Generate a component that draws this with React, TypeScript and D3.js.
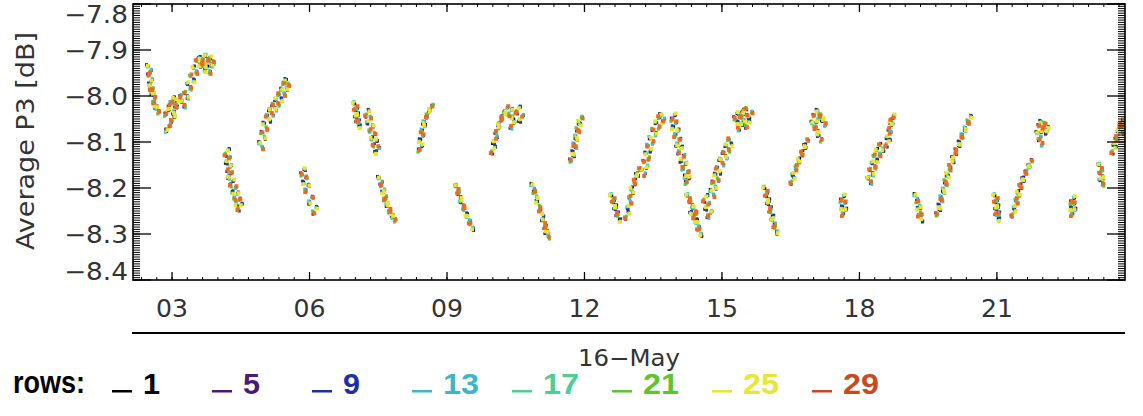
import React from "react";
import * as d3 from "d3";

const W = 1143;
const H = 416;

// ---- axis data ----
const yDomain = [-7.8, -8.4];
const xDomain = [2.148, 23.795]; // day of May
const yMajorTicks = [-7.8, -7.9, -8.0, -8.1, -8.2, -8.3, -8.4];
const yTickLabels = ["−7.8", "−7.9", "−8.0", "−8.1", "−8.2", "−8.3", "−8.4"];
const xMajorTicks = [3, 6, 9, 12, 15, 18, 21];
const xTickLabels = ["03", "06", "09", "12", "15", "18", "21"];
const dateLabel = "16−May";
const yTitle = "Average P3 [dB]";

// ---- legend / series ----
const rows = [1, 5, 9, 13, 17, 21, 25, 29];
const rowColors = ["#000000", "#5a1f80", "#2233b0", "#40bcd0", "#4fd4a0", "#5ec832", "#ece42a", "#ee6a1c"];
const legendColors = ["#000000", "#4c1a72", "#1f2fa6", "#3cb6c8", "#4ccf94", "#5cc62e", "#e8e634", "#c84a22"];
// spread of each row around the cluster track
const rowDayOffsets = [-0.055, 0.045, -0.03, 0.05, -0.045, 0.02, -0.015, 0.03];
const rowDbOffsets = [0.008, -0.007, 0.005, -0.009, 0.003, -0.004, 0.006, -0.002];

// ---- measurement clusters: [day of May, average P3 dB] ----
const clusters: [number, number][][] = [
  [[2.50,-7.94],[2.52,-7.96],[2.54,-7.98],[2.56,-7.99],[2.59,-8.00],[2.63,-8.02],[2.67,-8.03]],
  [[2.89,-8.035],[2.96,-8.02],[3.00,-8.01],[3.07,-8.03],[3.11,-8.015],[3.15,-8.005],[3.02,-8.05],[2.91,-8.07]],
  [[3.24,-8.017],[3.31,-7.998],[3.37,-7.978],[3.44,-7.961],[3.50,-7.943],[3.57,-7.928],[3.63,-7.922],[3.70,-7.926],[3.76,-7.917],[3.83,-7.928],[3.87,-7.922],[3.68,-7.939],[3.79,-7.943]],
  [[4.20,-8.122],[4.22,-8.139],[4.25,-8.157],[4.27,-8.172],[4.31,-8.189],[4.36,-8.204],[4.40,-8.217],[4.44,-8.230],[4.48,-8.241]],
  [[4.94,-8.107],[4.99,-8.085],[5.03,-8.065],[5.10,-8.048],[5.16,-8.035],[5.23,-8.024],[5.29,-8.013],[5.36,-8.002],[5.42,-7.991],[5.47,-7.978],[5.51,-7.970]],
  [[5.86,-8.165],[5.90,-8.183],[5.95,-8.200],[6.03,-8.226],[6.12,-8.248]],
  [[7.00,-8.020],[7.02,-8.035],[7.04,-8.050],[7.06,-8.061]],
  [[7.26,-8.037],[7.30,-8.052],[7.35,-8.070],[7.39,-8.087],[7.43,-8.102],[7.48,-8.117]],
  [[7.54,-8.183],[7.59,-8.200],[7.63,-8.215],[7.67,-8.230],[7.72,-8.243],[7.78,-8.257],[7.83,-8.265]],
  [[8.42,-8.113],[8.44,-8.091],[8.48,-8.070],[8.52,-8.052],[8.59,-8.037],[8.65,-8.026]],
  [[9.22,-8.200],[9.27,-8.217],[9.33,-8.235],[9.40,-8.252],[9.46,-8.267],[9.53,-8.283]],
  [[10.01,-8.117],[10.05,-8.096],[10.10,-8.074],[10.16,-8.057],[10.23,-8.041],[10.29,-8.030],[10.38,-8.035],[10.47,-8.041],[10.55,-8.030],[10.62,-8.048],[10.43,-8.063]],
  [[10.88,-8.198],[10.93,-8.215],[10.99,-8.235],[11.06,-8.254],[11.12,-8.274],[11.17,-8.291],[11.19,-8.302]],
  [[11.73,-8.135],[11.78,-8.117],[11.80,-8.100],[11.84,-8.083],[11.87,-8.067],[11.91,-8.052]],
  [[12.61,-8.220],[12.65,-8.235],[12.69,-8.250],[12.74,-8.265]],
  [[12.93,-8.259],[12.98,-8.237],[13.02,-8.215],[13.06,-8.196],[13.13,-8.178],[13.17,-8.165]],
  [[13.28,-8.165],[13.33,-8.148],[13.37,-8.130],[13.41,-8.113],[13.46,-8.096],[13.52,-8.078],[13.59,-8.063],[13.66,-8.052],[13.70,-8.046]],
  [[13.94,-8.046],[13.96,-8.063],[14.01,-8.080],[14.05,-8.100],[14.09,-8.117],[14.14,-8.135],[14.18,-8.152],[14.23,-8.170],[14.25,-8.183]],
  [[14.27,-8.220],[14.33,-8.235],[14.40,-8.248],[14.42,-8.265],[14.46,-8.280],[14.51,-8.296],[14.35,-8.259]],
  [[14.64,-8.222],[14.68,-8.239],[14.73,-8.257]],
  [[14.79,-8.211],[14.83,-8.193],[14.88,-8.176],[14.92,-8.161],[14.99,-8.143],[15.06,-8.128],[15.12,-8.113],[15.18,-8.100]],
  [[15.31,-8.043],[15.38,-8.052],[15.44,-8.037],[15.51,-8.048],[15.56,-8.061],[15.62,-8.041],[15.40,-8.067],[15.49,-8.033]],
  [[15.95,-8.204],[15.99,-8.222],[16.03,-8.239],[16.08,-8.257],[16.12,-8.274],[16.17,-8.291]],
  [[16.54,-8.183],[16.58,-8.165],[16.65,-8.148],[16.71,-8.133],[16.78,-8.117],[16.84,-8.102]],
  [[17.00,-8.063],[17.04,-8.048],[17.11,-8.037],[17.17,-8.046],[17.22,-8.057],[17.06,-8.074],[17.13,-8.091]],
  [[17.63,-8.222],[17.65,-8.237],[17.67,-8.252]],
  [[18.22,-8.183],[18.26,-8.165],[18.31,-8.150],[18.35,-8.135],[18.41,-8.122],[18.48,-8.111]],
  [[18.62,-8.102],[18.64,-8.085],[18.68,-8.067],[18.71,-8.052],[18.72,-8.048]],
  [[19.24,-8.220],[19.29,-8.235],[19.31,-8.250],[19.33,-8.265]],
  [[19.72,-8.252],[19.77,-8.233],[19.81,-8.215],[19.86,-8.198],[19.90,-8.180],[19.94,-8.165],[20.01,-8.148],[20.07,-8.130],[20.14,-8.113],[20.21,-8.096],[20.27,-8.080],[20.34,-8.065],[20.40,-8.050]],
  [[20.97,-8.220],[20.99,-8.235],[21.01,-8.250],[21.01,-8.263]],
  [[21.36,-8.254],[21.41,-8.237],[21.45,-8.220],[21.49,-8.204],[21.54,-8.189],[21.60,-8.174],[21.67,-8.159],[21.73,-8.146]],
  [[21.91,-8.085],[21.95,-8.070],[21.99,-8.061],[22.04,-8.074],[21.95,-8.100],[22.08,-8.065]],
  [[22.65,-8.226],[22.65,-8.239],[22.67,-8.252]],
  [[23.26,-8.154],[23.28,-8.172],[23.28,-8.187]],
  [[23.55,-8.117],[23.59,-8.100],[23.63,-8.085],[23.68,-8.070],[23.72,-8.057],[23.76,-8.063],[23.79,-8.074]],
];

const PL = 133, PR = 1125, PT = 4, PB = 280;
const FONT = "'DejaVu Sans', sans-serif";
const TXT = "#333";

export default function App() {
  const x = d3.scaleLinear().domain(xDomain).range([PL, PR]);
  const y = d3.scaleLinear().domain(yDomain).range([PT, PB]);

  const yMinor = y.ticks(120);
  const xMinor = d3.range(7, 72).map((k) => k / 3);

  const dots: React.ReactNode[] = [];
  rows.forEach((_, r) => {
    clusters.forEach((c, ci) => {
      c.forEach(([d, v], pi) => {
        const k = (r * 3 + pi * 5 + ci) % rows.length;
        const j = (r * 5 + pi * 3 + ci * 2) % rows.length;
        const s = r >= 6 ? 3.8 : 3;
        dots.push(
          <rect
            key={`${r}-${ci}-${pi}`}
            x={x(d + rowDayOffsets[k]) - s / 2}
            y={y(v + rowDbOffsets[j]) - s / 2}
            width={s}
            height={s}
            fill={rowColors[r]}
          />
        );
      });
    });
  });

  return (
    <svg
      width={W}
      height={H}
      style={{ position: "absolute", left: 0, top: 0, background: "#fff" }}
    >
      <defs>
        <clipPath id="plotClip">
          <rect x={PL} y={PT} width={PR - PL} height={PB - PT} />
        </clipPath>
      </defs>
      <rect x={0} y={0} width={W} height={H} fill="#fff" />

      <g clipPath="url(#plotClip)">{dots}</g>

      {/* y minor ticks */}
      {yMinor.map((v, i) => (
        <g key={`ym${i}`}>
          <line x1={PL} x2={PL + 7} y1={y(v)} y2={y(v)} stroke="#000" strokeWidth={1} />
          <line x1={PR} x2={PR - 7} y1={y(v)} y2={y(v)} stroke="#000" strokeWidth={1} />
        </g>
      ))}
      {/* y major ticks */}
      {yMajorTicks.map((v, i) => (
        <g key={`yM${i}`}>
          <line x1={PL} x2={PL + 18} y1={y(v)} y2={y(v)} stroke="#000" strokeWidth={1.3} />
          <line x1={PR} x2={PR - 18} y1={y(v)} y2={y(v)} stroke="#000" strokeWidth={1.3} />
          <text
            x={128}
            y={Math.min(Math.max(y(v), PT + 10), PB - 9) + 8.5}
            textAnchor="end"
            fontFamily={FONT}
            fontSize={24}
            fill={TXT}
            textLength={64}
            lengthAdjust="spacingAndGlyphs"
          >
            {yTickLabels[i]}
          </text>
        </g>
      ))}
      {/* x minor ticks */}
      {xMinor.map((d, i) => (
        <g key={`xm${i}`}>
          <line x1={x(d)} x2={x(d)} y1={PB} y2={PB - 3} stroke="#000" strokeWidth={1} />
          <line x1={x(d)} x2={x(d)} y1={PT} y2={PT + 3} stroke="#000" strokeWidth={1} />
        </g>
      ))}
      {xMajorTicks.map((d, i) => (
        <g key={`xM${i}`}>
          <line x1={x(d)} x2={x(d)} y1={PB} y2={PB - 8} stroke="#000" strokeWidth={1.3} />
          <line x1={x(d)} x2={x(d)} y1={PT} y2={PT + 8} stroke="#000" strokeWidth={1.3} />
          <text
            x={x(d)}
            y={317}
            textAnchor="middle"
            fontFamily={FONT}
            fontSize={24}
            fill={TXT}
            textLength={32}
            lengthAdjust="spacingAndGlyphs"
          >
            {xTickLabels[i]}
          </text>
        </g>
      ))}

      {/* frame */}
      <rect x={PL} y={PT} width={PR - PL} height={PB - PT} fill="none" stroke="#000" strokeWidth={1.6} />

      {/* y title */}
      <text
        transform={`translate(34, ${(PT + PB) / 2 - 1}) rotate(-90)`}
        textAnchor="middle"
        fontFamily={FONT}
        fontSize={24}
        fill={TXT}
        textLength={218}
        lengthAdjust="spacingAndGlyphs"
      >
        {yTitle}
      </text>

      {/* secondary date axis line */}
      <line x1={PL - 1} x2={PR} y1={333} y2={333} stroke="#000" strokeWidth={2} />
      <text
        x={(PL + PR) / 2}
        y={366}
        textAnchor="middle"
        fontFamily={FONT}
        fontSize={23}
        fill={TXT}
        textLength={102}
        lengthAdjust="spacingAndGlyphs"
      >
        {dateLabel}
      </text>

      {/* legend */}
      <text
        x={13}
        y={393}
        fontFamily="'Liberation Sans', Arial, sans-serif"
        fontWeight="bold"
        fontSize={31}
        fill="#000"
        textLength={72}
        lengthAdjust="spacingAndGlyphs"
      >
        rows:
      </text>
      {rows.map((r, i) => (
        <g key={`lg${i}`}>
          <rect x={112 + 100 * i} y={390} width={20} height={2.5} fill={legendColors[i]} />
          <text
            x={143 + 100 * i}
            y={394}
            fontFamily="'Liberation Sans', Arial, sans-serif"
            fontWeight="bold"
            fontSize={29}
            fill={legendColors[i]}
            textLength={r < 10 ? 17 : 36}
            lengthAdjust="spacingAndGlyphs"
          >
            {String(r)}
          </text>
        </g>
      ))}
    </svg>
  );
}
